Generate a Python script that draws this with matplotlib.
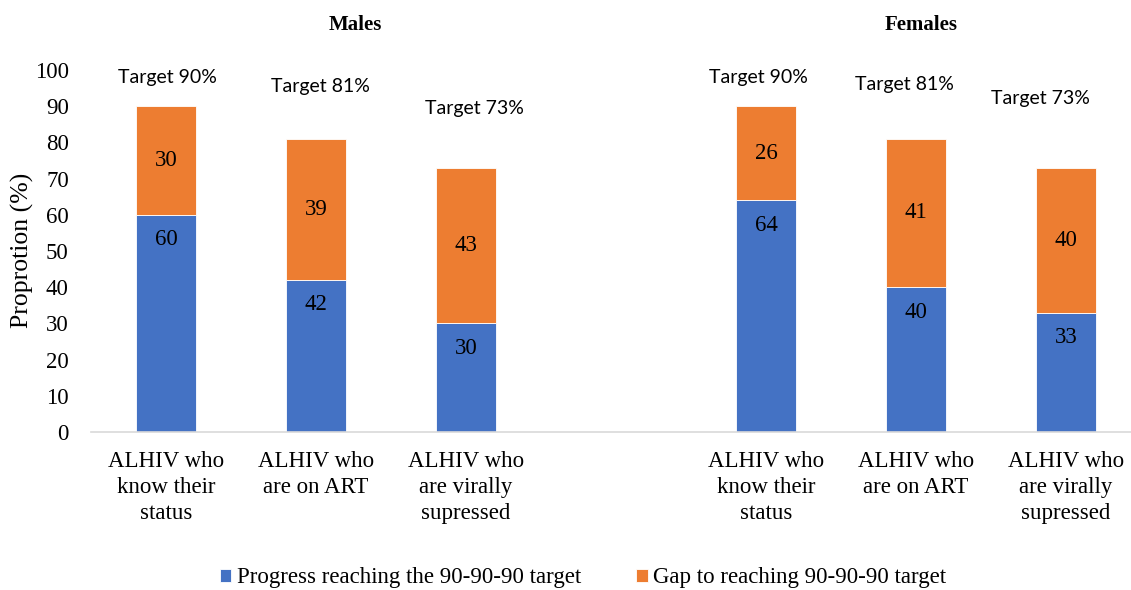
import matplotlib.pyplot as plt

# data
groups = ['Males', 'Females']
categories = ['ALHIV who\nknow their\nstatus', 'ALHIV who\nare on ART',
              'ALHIV who\nare virally\nsupressed']
progress_males = [60, 42, 30]
gap_males = [30, 39, 43]
progress_females = [64, 40, 33]
gap_females = [26, 41, 40]
targets = [90, 81, 73]

series_names = ['Progress reaching the 90-90-90 target',
                'Gap to reaching 90-90-90 target']
blue = '#4472C4'
orange = '#ED7D31'

# males in slots 0-2, females in slots 4-6 (slot 3 left empty)
xpos = [0, 1, 2, 4, 5, 6]
progress = progress_males + progress_females
gap = gap_males + gap_females
tick_labels = categories + categories
target_vals = targets + targets

# where the "Target" texts sit, pixel offsets from the bar top
target_offsets = [(1, 29), (4, 52), (8, 59), (-8, 29), (-12, 54), (-26, 69)]

serif = 'Liberation Serif'
plt.rcParams['font.family'] = serif

fig = plt.figure(figsize=(11.31, 5.90), dpi=100)
ax = fig.add_axes([91 / 1131, 158 / 590, 1 - 91 / 1131, (432 - 70) / 590])

b1 = ax.bar(xpos, progress, width=0.4, color=blue, edgecolor='white',
            linewidth=0.6, label=series_names[0])
b2 = ax.bar(xpos, gap, width=0.4, bottom=progress, color=orange,
            edgecolor='white', linewidth=0.6, label=series_names[1])

for x, p, g, t, off in zip(xpos, progress, gap, target_vals, target_offsets):
    ax.annotate(str(p), (x, p), xytext=(0, -25), textcoords='offset pixels',
                ha='center', va='center', fontsize=16.5)
    ax.text(x, p + g / 2, str(g), ha='center', va='center', fontsize=16.5)
    ax.annotate(f'Target {t}%', (x + off[0] / 150, p + g),
                xytext=(0, off[1]), textcoords='offset pixels',
                ha='center', va='center', fontsize=14, family='Lato')

ax.set_ylim(0, 100)
ax.set_xlim(-0.5, -0.5 + 1040 / 150)
ax.set_yticks(range(0, 101, 10))
ax.set_xticks(xpos)
ax.set_xticklabels(tick_labels, linespacing=1.3)
ax.tick_params(axis='both', length=0, labelsize=16.5)
ax.tick_params(axis='y', pad=16)
ax.tick_params(axis='x', pad=14)

for s in ['top', 'right', 'left']:
    ax.spines[s].set_visible(False)
ax.spines['bottom'].set_color('#D9D9D9')
ax.spines['bottom'].set_linewidth(1.2)

ax.set_ylabel('Proprotion (%)', fontsize=18.5, va='center')
ax.yaxis.set_label_coords(-69 / 1040, (432 - 250) / 362)

fig.text(355 / 1131, 1 - 25 / 590, groups[0], ha='center', va='center',
         fontsize=15, fontweight='bold')
fig.text(921 / 1131, 1 - 25 / 590, groups[1], ha='center', va='center',
         fontsize=15, fontweight='bold')

fig.legend(handles=[b1, b2], loc='center', bbox_to_anchor=(583 / 1131, 1 - 578 / 590),
           ncol=2, frameon=False, fontsize=16.5, handlelength=0.5, handleheight=0.5,
           handletextpad=0.25, columnspacing=2.4)

fig.savefig('out.png', dpi=100)
